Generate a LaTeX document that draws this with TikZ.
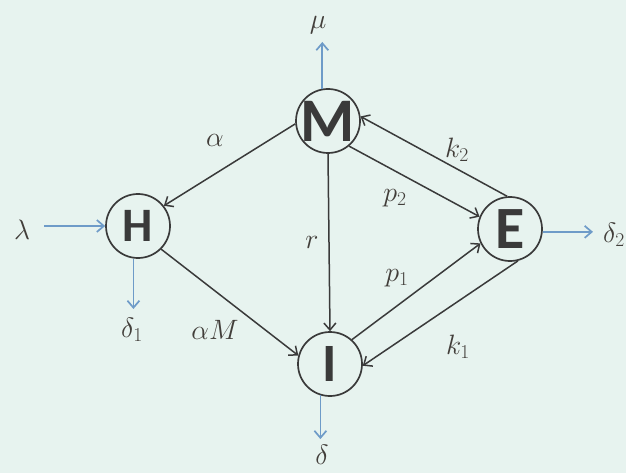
\RequirePackage{fix-cm}
\documentclass[tikz,border=0pt]{standalone}
\usepackage{fontspec}
\newfontfamily\carl{Carlito}
\usetikzlibrary{arrows.meta}
\definecolor{bgc}{RGB}{231,243,239}
\definecolor{ink}{RGB}{58,58,58}
\definecolor{flow}{RGB}{110,155,200}
\definecolor{lab}{RGB}{66,62,58}
\begin{document}
\begin{tikzpicture}[x=1pt,y=-1pt,
  comp/.style={circle,draw=ink,line width=1.7pt,minimum size=64pt,inner sep=0pt,text=ink},
  lbl/.style={text=lab,inner sep=0pt,font=\fontsize{28}{32}\selectfont},
  edge/.style={draw=ink,line width=1.5pt,-{Straight Barb[length=7pt,width=12pt]}},
  flowarr/.style={draw=flow,line width=1.7pt,-{Straight Barb[length=7pt,width=12pt]}}]
\fill[bgc] (0,0) rectangle (626,473);
\useasboundingbox (0,0) rectangle (626,473);
% compartments
\node[comp,font=\carl\bfseries\fontsize{62}{62}\selectfont] (M) at (328,121) {\makebox[0pt]{M}};
\node[comp,font=\carl\bfseries\fontsize{48}{48}\selectfont] (H) at (138,226) {\makebox[0pt]{H}};
\node[comp,font=\carl\bfseries\fontsize{60}{60}\selectfont] (E) at (510,229) {\makebox[0pt]{E}};
\node[comp,font=\carl\bfseries\fontsize{54}{54}\selectfont] (I) at (330,364) {\makebox[0pt]{I}};
% labels
\node[lbl] (mu) at (318,25) {$\mu$};
\node[lbl] (al) at (215,140) {$\alpha$};
\node[lbl] (k2) at (457,150) {$k_2$};
\node[lbl] (p2) at (395,198) {$p_2$};
\node[lbl] (r) at (312,242) {$r$};
\node[lbl] (p1) at (397,278) {$p_1$};
\node[lbl] (k1) at (458,347) {$k_1$};
\node[lbl] (aM) at (215,330) {$\alpha M$};
\node[lbl] (d1) at (132,330) {$\delta_1$};
\node[lbl] (d) at (322,455) {$\delta$};
\node[lbl] (lam) at (22,230) {$\lambda$};
\node[lbl] (d2) at (614,235) {$\delta_2$};
% black transitions
\draw[edge] (M.185) -- (H.38);
\draw[edge] (M.south) -- (I.north);
\draw[edge] (M.-50) -- (E.158);
\draw[edge] (E.95) -- (M.8);
\draw[edge] (I.48) -- (E.206);
\draw[edge] (E.-76) -- (I.-3);
\draw[edge] (H.-45) -- (I.165);
% blue flows
\draw[flowarr,shorten <=14pt] (lam.east |- H.west) -- (H.west);
\draw[flowarr,shorten >=9pt] (H.-98) -- (H.-98 |- d1.north);
\draw[flowarr,shorten >=8pt] (M.100) -- (M.100 |- mu.south);
\draw[flowarr,shorten >=6pt] (I.-107) -- (I.-107 |- d.north);
\draw[flowarr,shorten >=10pt] (E.-5) -- (E.-5 -| d2.west);
\end{tikzpicture}
\end{document}
